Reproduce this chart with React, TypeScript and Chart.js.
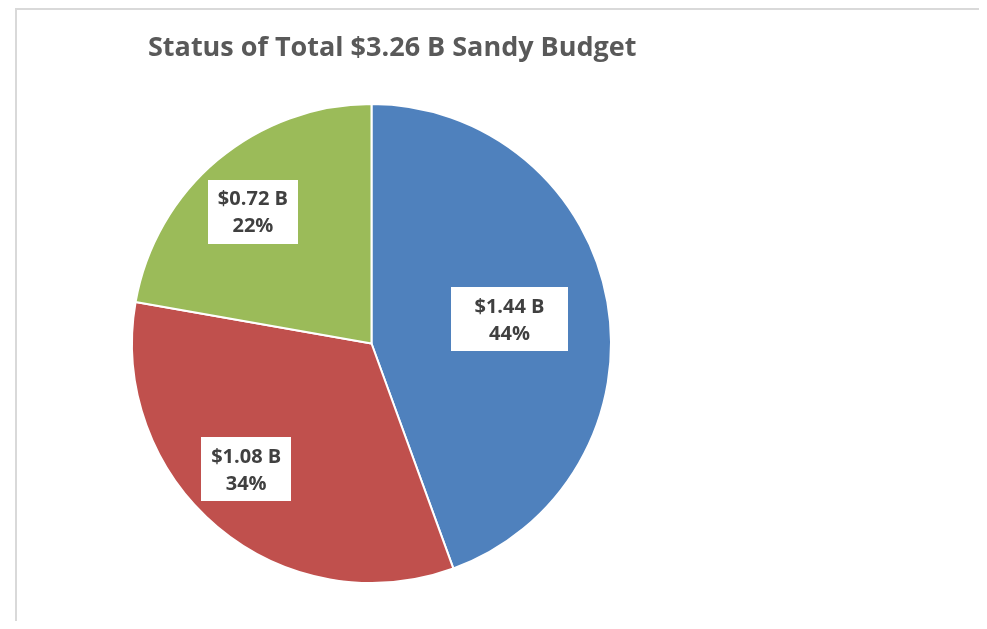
import React, { useEffect, useRef } from "react";
import { Chart, registerables } from "chart.js";

Chart.register(...registerables);

const TITLE = "Status of Total $3.26 B Sandy Budget";
const categories = ["Segment A", "Segment B", "Segment C"];
const values = [1.44, 1.08, 0.72];
const valueLabels = ["$1.44 B", "$1.08 B", "$0.72 B"];
const percentLabels = ["44%", "34%", "22%"];
const colors = ["#4f81bd", "#c0504d", "#9bbb59"];

// label box styling (per slice)
const LABEL_RADIUS = [0.585, 0.74, 0.74];
const LABEL_ANGLE_SHIFT = [0, 5, -2]; // degrees
const LABEL_BOX_W = [117, 90, 90];
const LABEL_BOX_H = 64;

const labelPlugin = {
  id: "sliceLabels",
  afterDatasetsDraw(chart: any) {
    const ctx = chart.ctx as CanvasRenderingContext2D;
    const meta = chart.getDatasetMeta(0);
    meta.data.forEach((arc: any, i: number) => {
      const { x, y, startAngle, endAngle, outerRadius } = arc.getProps(
        ["x", "y", "startAngle", "endAngle", "outerRadius"],
        true
      );
      const mid = (startAngle + endAngle) / 2 + (LABEL_ANGLE_SHIFT[i] * Math.PI) / 180;
      const r = outerRadius * LABEL_RADIUS[i];
      const cx = x + Math.cos(mid) * r;
      const cy = y + Math.sin(mid) * r;
      const w = LABEL_BOX_W[i];
      const h = LABEL_BOX_H;
      ctx.save();
      ctx.fillStyle = "#ffffff";
      ctx.fillRect(Math.round(cx - w / 2), Math.round(cy - h / 2), w, h);
      ctx.fillStyle = "#404040";
      ctx.font = "bold 20px 'Open Sans'";
      ctx.textAlign = "center";
      ctx.textBaseline = "middle";
      ctx.fillText(valueLabels[i], cx, cy - 12);
      ctx.fillText(percentLabels[i], cx, cy + 15);
      ctx.restore();
    });
  },
};

const titlePlugin = {
  id: "leftTitle",
  afterDraw(chart: any) {
    const ctx = chart.ctx as CanvasRenderingContext2D;
    ctx.save();
    ctx.fillStyle = "#595959";
    ctx.font = "bold 27px 'Open Sans'";
    ctx.textAlign = "left";
    ctx.textBaseline = "middle";
    ctx.fillText(TITLE, 131, 38);
    ctx.restore();
  },
};

export default function App() {
  const ref = useRef<HTMLCanvasElement>(null);
  useEffect(() => {
    if (!ref.current) return;
    const chart = new Chart(ref.current, {
      type: "pie",
      data: {
        labels: categories,
        datasets: [
          {
            data: values,
            backgroundColor: colors,
            borderColor: "#ffffff",
            borderWidth: 2,
          },
        ],
      },
      options: {
        animation: false,
        responsive: false,
        maintainAspectRatio: false,
        layout: { padding: { left: 114, top: 93, right: 369, bottom: 45 } },
        plugins: {
          legend: { display: false },
          title: { display: false },
          tooltip: { enabled: false },
        },
      },
      plugins: [labelPlugin, titlePlugin],
    });
    return () => chart.destroy();
  }, []);
  return (
    <div
      style={{
        marginLeft: 7,
        marginBottom: -8,
        width: 968,
        height: 621,
        boxSizing: "border-box",
        border: "2px solid #d9d9d9",
        borderBottom: "none",
        background: "#ffffff",
      }}
    >
      <canvas ref={ref} width={964} height={619} style={{ display: "block" }} />
    </div>
  );
}
